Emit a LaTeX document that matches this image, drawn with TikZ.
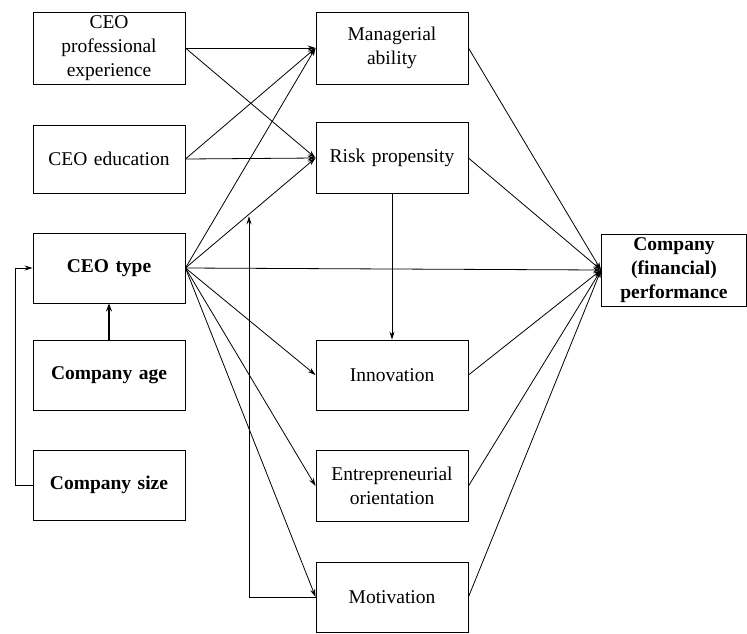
\documentclass[tikz,border=0pt]{standalone}
\usepackage{fontspec}
\setmainfont{Liberation Serif}
\usetikzlibrary{arrows.meta,calc}
\begin{document}
\begin{tikzpicture}[x=1pt,y=-1pt,
  box/.style={draw, line width=0.9pt, minimum width=152pt, inner sep=2pt,
    align=center, font=\fontsize{19.5}{24}\selectfont, text width=146pt},
  bbox/.style={box, font=\fontsize{19.5}{24}\selectfont\bfseries},
  link/.style={line width=0.8pt, -{Stealth[length=8pt,width=5pt]}},
  thick link/.style={line width=1.4pt, -{Stealth[length=8pt,width=6pt]}}
]
\useasboundingbox (0,0) rectangle (747,633);

% left column: CEO characteristics and controls
\node[box, minimum height=72pt] (exp) at (109,48) {CEO\\professional\\experience};
\node[box, minimum height=68pt] (edu) at (109,159) {CEO education};
\node[bbox, minimum height=70pt] (type) at (109,268) {CEO type};
\node[bbox, minimum height=70pt] (age) at (109,375) {Company age};
\node[bbox, minimum height=70pt] (size) at (109,485) {Company size};

% middle column: mediators
\node[box, minimum height=72pt] (man) at (392,48) {Managerial\\ability};
\node[box, minimum height=71pt] (risk) at (392,158) {Risk propensity};
\node[box, minimum height=70pt] (inno) at (392,375) {Innovation};
\node[box, minimum height=71pt] (entre) at (392,486) {Entrepreneurial\\orientation};
\node[box, minimum height=70pt] (mot) at (392,597) {Motivation};

% outcome
\node[bbox, minimum width=145pt, text width=139pt, minimum height=72pt] (perf) at (674,270) {Company\\(financial)\\performance};

% CEO background to managerial ability and risk propensity
\draw[link] (exp.east) -- (man.west);
\draw[link] (exp.east) -- (risk.west);
\draw[link] (edu.east) -- (man.west);
\draw[link] (edu.east) -- (risk.west);

% CEO type to all mediators and outcome
\foreach \t in {man,risk,inno,entre,mot,perf}
  \draw[link] (type.east) -- (\t.west);

% mediators to performance
\foreach \s in {man,risk,inno,entre,mot}
  \draw[link] (\s.east) -- (perf.west);

% risk propensity to innovation
\draw[link] (risk.south) -- (inno.north);

% controls to CEO type
\draw[thick link] (age.north) -- (type.south);
\coordinate (sizecorner) at (15,485);
\draw[link] (size.west) -- (sizecorner) |- (type.west);

% motivation moderating the CEO type - risk propensity link
\coordinate (modtarget) at ($(type.east)!0.4885!(risk.west)$);
\coordinate (motcorner) at (249,597);
\draw[link, shorten >=2pt] (mot.west) -- (motcorner) -- (motcorner |- modtarget);
\end{tikzpicture}
\end{document}
